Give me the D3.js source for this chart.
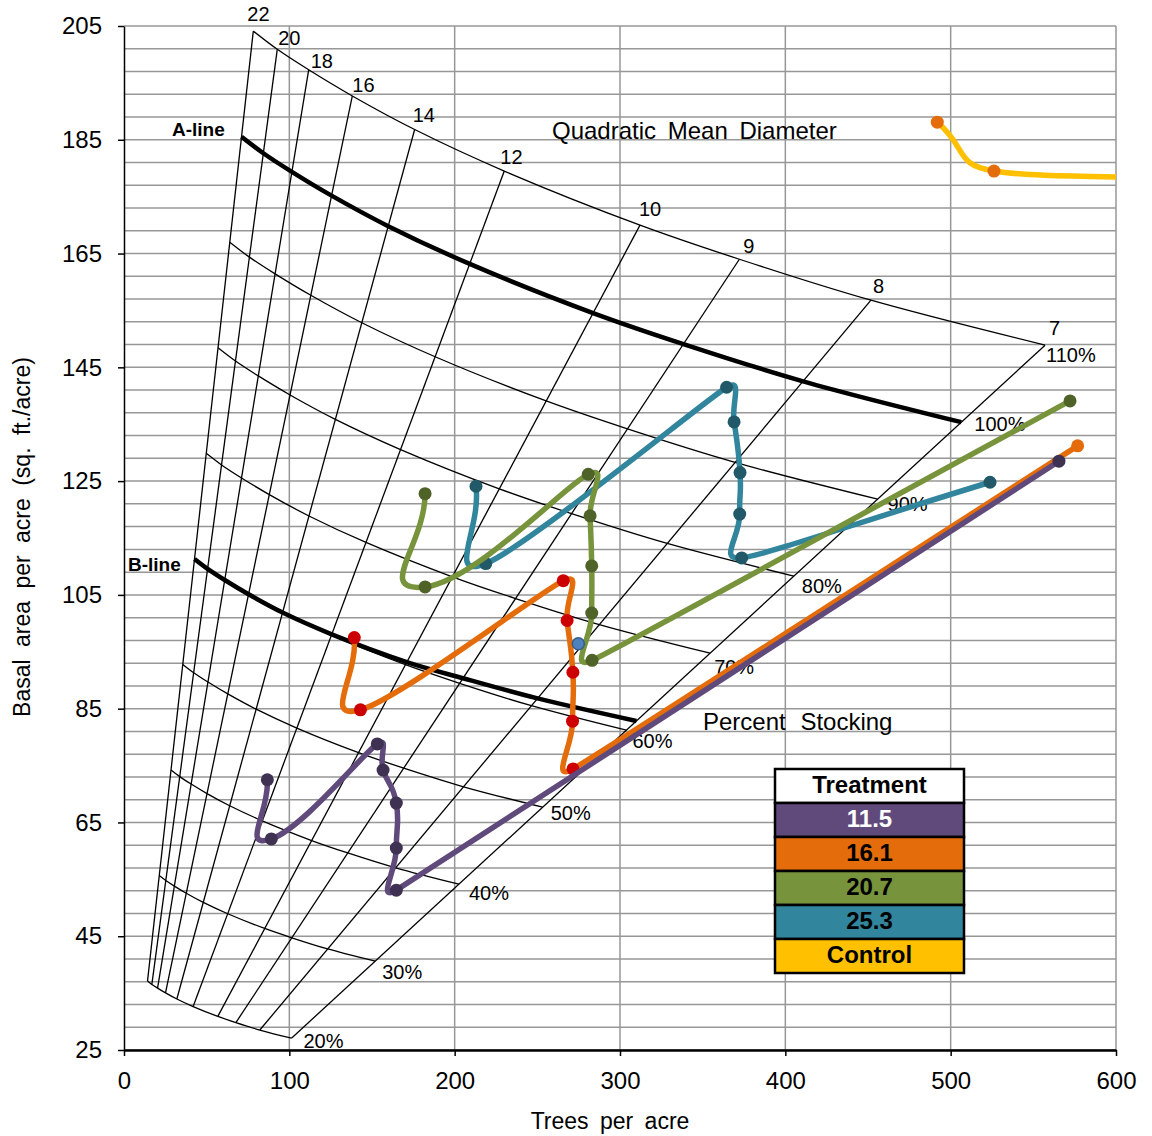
<!DOCTYPE html>
<html>
<head>
  <meta charset="utf-8" />
  <script src="https://d3js.org/d3.v7.min.js"></script>
  <style>
    body { margin: 0; padding: 0; background-color: #ffffff; }
    text { font-family: "Liberation Sans", Arial, sans-serif; fill: #000; }
    .grid line { stroke: #979797; stroke-width: 1.5; }
    .guide { fill: none; stroke: #000; stroke-width: 1.3; }
    .heavy { fill: none; stroke: #000; stroke-width: 4.5; }
  </style>
</head>
<body>
<svg id="chart" width="1152" height="1136"></svg>
<script>
// ---- stocking diagram ----
const diameters = ["22", "20", "18", "16", "14", "12", "10", "9", "8", "7"];
// where each diameter line meets the 110% curve
const tpaAt110 = [78.2, 92.7, 111.7, 138.1, 175.8, 230.0, 312.1, 372.2, 451.8, 557.1];
const baAt110 = [204.1, 200.9, 197.3, 192.7, 186.8, 179.5, 170.0, 164.0, 156.8, 148.9];
const stockingLevels = [20, 30, 40, 50, 60, 70, 80, 90, 100, 110];
const aLineLevel = 100;
// B-line, as percent stocking where it crosses each diameter line
const bLineLevels = [60, 60, 60, 60, 60, 60.1, 60.3, 60.6, 60.9, 61.2];

// ---- treatments ----
const treatments = ["11.5", "16.1", "20.7", "25.3", "Control"];
const tpa115 = [565.5, 164.7, 164.7, 164.7, 156.7, 153.2, 89.1, 86.7];
const ba115 = [128.5, 53.1, 60.5, 68.4, 74.2, 78.8, 62.1, 72.5];
const tpa161 = [576.8, 271.6, 271.3, 271.5, 268.0, 265.7, 143.0, 139.3];
const ba161 = [131.2, 74.4, 82.8, 91.4, 100.5, 107.5, 84.8, 97.5];
const tpa207 = [572.2, 283.1, 282.9, 282.9, 281.9, 280.8, 182.1, 182.1];
const ba207 = [139.1, 93.5, 101.8, 110.1, 118.9, 126.2, 106.4, 122.8];
const tpa253 = [523.8, 373.6, 372.4, 372.6, 369.0, 364.5, 218.8, 212.9];
const ba253 = [124.8, 111.5, 119.2, 126.5, 135.4, 141.5, 110.5, 124.1];
const tpaControl = [491.9, 526.2, 700];
const baControl = [188.1, 179.5, 177.8];
const tpaExtra = [274.8];
const baExtra = [96.4];

const xTicks = [0, 100, 200, 300, 400, 500, 600];
const yTicks = [25, 45, 65, 85, 105, 125, 145, 165, 185, 205];

// ---- styling ----
const lineColors = { "11.5": "#604A7B", "16.1": "#E46C0A", "20.7": "#77933C", "25.3": "#31859C", "Control": "#FFC000" };
const markColors = { "11.5": "#3F3151", "16.1": "#CC0000", "20.7": "#4F6228", "25.3": "#215968", "Control": "#E46C0A" };
const legendText = { "11.5": "#fff", "16.1": "#000", "20.7": "#000", "25.3": "#000", "Control": "#000" };
// label nudges in px (dx to text start, dy to text middle)
const pctNudge = [[12, 5], [7, 13], [10, 11], [8, 8], [6, 13], [4, 16], [8, 12], [10, 7], [13, 4], [1, 12]];
const diaNudge = [[-6, -15], [1, -10], [2, -7], [0, -9], [-2, -13], [-4, -12], [-1, -14], [4, -12], [2, -12], [4, -15]];

const svg = d3.select("#chart");
const x = d3.scaleLinear().domain([0, 600]).range([124, 1116]);
const y = d3.scaleLinear().domain([25, 205]).range([1050, 26]);

svg.append("defs").append("clipPath").attr("id", "plot")
  .append("rect").attr("x", 124).attr("y", 26).attr("width", 992).attr("height", 1024);

// gridlines
const grid = svg.append("g").attr("class", "grid");
grid.selectAll(".h").data(d3.range(25, 206, 4)).enter().append("line")
  .attr("x1", x(0)).attr("x2", x(600)).attr("y1", d => y(d)).attr("y2", d => y(d));
grid.selectAll(".v").data(xTicks.slice(1)).enter().append("line")
  .attr("x1", d => x(d)).attr("x2", d => x(d)).attr("y1", y(25)).attr("y2", y(205));

// axes
const yAxis = svg.append("g").attr("transform", `translate(${x(0)},0)`)
  .call(d3.axisLeft(y).tickValues(yTicks).tickSize(6).tickPadding(16).tickSizeOuter(0));
const xAxis = svg.append("g").attr("transform", `translate(0,${y(25)})`)
  .call(d3.axisBottom(x).tickValues(xTicks).tickSize(6).tickPadding(16).tickSizeOuter(0));
[yAxis, xAxis].forEach(a => {
  a.selectAll("text").style("font-size", "24px").style("font-family", '"Liberation Sans", Arial, sans-serif');
  a.selectAll("line").attr("stroke", "#000").attr("stroke-width", 1.5);
});
yAxis.select(".domain").attr("stroke", "#000").attr("stroke-width", 1.5);
xAxis.select(".domain").attr("stroke", "#000").attr("stroke-width", 2.5);

svg.append("text").attr("x", 610).attr("y", 1129).attr("text-anchor", "middle")
  .style("font-size", "23px").style("word-spacing", "5px").text("Trees per acre");
svg.append("text").attr("transform", "translate(30,537) rotate(-90)").attr("text-anchor", "middle")
  .style("font-size", "23px").style("word-spacing", "6px").text("Basal area per acre (sq. ft./acre)");

// stocking diagram
const diag = svg.append("g");
const pt = (i, s) => [x(tpaAt110[i] * s / 110), y(baAt110[i] * s / 110)];
const smooth = d3.line().curve(d3.curveCatmullRom.alpha(0.5));
diameters.forEach((d, i) => {
  const a = pt(i, 20), b = pt(i, 110);
  diag.append("line").attr("class", "guide")
    .attr("x1", a[0]).attr("y1", a[1]).attr("x2", b[0]).attr("y2", b[1]);
  diag.append("text").attr("x", b[0] + diaNudge[i][0]).attr("y", b[1] + diaNudge[i][1])
    .attr("dominant-baseline", "middle").style("font-size", "20px").text(d);
});
stockingLevels.forEach((s, k) => {
  const pts = diameters.map((d, i) => pt(i, s));
  diag.append("path").attr("class", s === aLineLevel ? "heavy" : "guide").attr("d", smooth(pts));
  const end = pts[pts.length - 1];
  diag.append("text").attr("x", end[0] + pctNudge[k][0]).attr("y", end[1] + pctNudge[k][1])
    .attr("dominant-baseline", "middle").style("font-size", "20px").text(s + "%");
});
diag.append("path").attr("class", "heavy")
  .attr("d", smooth(bLineLevels.map((s, i) => pt(i, s))));

diag.append("text").attr("x", 172).attr("y", 136).style("font-size", "19px").style("font-weight", "bold").text("A-line");
diag.append("text").attr("x", 128).attr("y", 571).style("font-size", "19px").style("font-weight", "bold").text("B-line");
diag.append("text").attr("x", 552).attr("y", 139).style("font-size", "24px").style("word-spacing", "5px").text("Quadratic Mean Diameter");
diag.append("text").attr("x", 703).attr("y", 730).style("font-size", "24px").style("word-spacing", "8px").text("Percent Stocking");

// spreadsheet-style smoothed line: handle follows the neighbours' direction,
// its length is capped by the shorter of the two adjoining segments
function smoothed(pts, k = 0.55) {
  const p = d3.path();
  const n = pts.length;
  const dist = (a, b) => Math.hypot(b[0] - a[0], b[1] - a[1]);
  const handles = pts.map((c, i) => {
    const a = pts[Math.max(i - 1, 0)], b = pts[Math.min(i + 1, n - 1)];
    const len = dist(a, b) || 1;
    const dPrev = i > 0 ? dist(pts[i - 1], c) : Infinity;
    const dNext = i < n - 1 ? dist(c, pts[i + 1]) : Infinity;
    const h = k * Math.min(dPrev, dNext);
    return [(b[0] - a[0]) / len * h, (b[1] - a[1]) / len * h];
  });
  p.moveTo(pts[0][0], pts[0][1]);
  for (let i = 0; i < n - 1; i++) {
    const p1 = pts[i], p2 = pts[i + 1];
    p.bezierCurveTo(p1[0] + handles[i][0], p1[1] + handles[i][1],
      p2[0] - handles[i + 1][0], p2[1] - handles[i + 1][1], p2[0], p2[1]);
  }
  return p.toString();
}

// treatment series
const series = [
  { name: "25.3", tpa: tpa253, ba: ba253 },
  { name: "20.7", tpa: tpa207, ba: ba207 },
  { name: "16.1", tpa: tpa161, ba: ba161 },
  { name: "11.5", tpa: tpa115, ba: ba115 },
  { name: "Control", tpa: tpaControl, ba: baControl }
];
const plot = svg.append("g").attr("clip-path", "url(#plot)");
series.forEach(s => {
  const pts = s.tpa.map((t, i) => [x(t), y(s.ba[i])]);
  plot.append("path").attr("d", smoothed(pts)).attr("fill", "none")
    .attr("stroke", lineColors[s.name]).attr("stroke-width", 5.5)
    .attr("stroke-linejoin", "round").attr("stroke-linecap", "round");
  plot.selectAll(null).data(pts).enter().append("circle")
    .attr("cx", d => d[0]).attr("cy", d => d[1]).attr("r", 6.5)
    .attr("fill", (d, i) => (s.name === "16.1" && i === 0) ? lineColors["16.1"] : markColors[s.name]);
});
plot.selectAll(null).data(tpaExtra).enter().append("circle")
  .attr("cx", d => x(d)).attr("cy", (d, i) => y(baExtra[i])).attr("r", 6)
  .attr("fill", "#4F81BD").attr("stroke", "#385D8A").attr("stroke-width", 1.5);

// legend table
const lg = svg.append("g").attr("transform", "translate(775,769)");
const rowH = 34, lgW = 189;
const rows = ["Treatment"].concat(treatments);
lg.selectAll("rect").data(rows).enter().append("rect")
  .attr("x", 0).attr("y", (d, i) => i * rowH).attr("width", lgW).attr("height", rowH)
  .attr("fill", d => d === "Treatment" ? "#fff" : lineColors[d])
  .attr("stroke", "#000").attr("stroke-width", 2.5);
lg.selectAll("text").data(rows).enter().append("text")
  .attr("x", lgW / 2).attr("y", (d, i) => i * rowH + rowH / 2 + 1)
  .attr("text-anchor", "middle").attr("dominant-baseline", "middle")
  .style("font-size", "24px").style("font-weight", "bold")
  .style("fill", d => d === "Treatment" ? "#000" : legendText[d]).text(d => d);
</script>
</body>
</html>
